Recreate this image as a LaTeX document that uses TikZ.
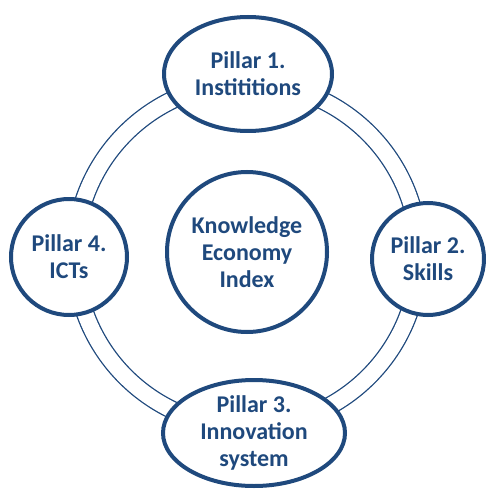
\documentclass[tikz,border=0pt]{standalone}
\usepackage{fontspec}
\setmainfont{Carlito}
\usetikzlibrary{shapes.geometric}
\definecolor{kedark}{RGB}{31,73,125}
\tikzset{
  pillar/.style={draw=kedark,line width=4pt,fill=white,text=kedark,
    align=center,inner sep=0pt,font=\bfseries\fontsize{24}{27}\selectfont},
  round/.style={pillar,circle},
  oval/.style={pillar,ellipse}
}
\begin{document}
\begin{tikzpicture}[x=1pt,y=-1pt]
    \useasboundingbox (0,0) rectangle (485,489);
    % the double ring behind the pillars
    \coordinate (hub) at (247,255);
    \draw[kedark,line width=1.3pt,double=white,double distance=16pt] (hub) circle[radius=172pt];

    \node[round,minimum size=160pt] (kei) at (247,252) {Knowledge\\Economy\\Index};

    \node[oval,minimum width=168pt,minimum height=114pt] (p1) at (248,74) {Pillar 1.\\Instititions};
    \node[round,minimum size=112pt] (p2) at (428,259) {Pillar 2.\\Skills};
    \node[oval,minimum width=182pt,minimum height=106pt] (p3) at (254,433) {Pillar 3.\\Innovation\\system};
    \node[round,minimum size=116pt] (p4) at (69,257) {Pillar 4.\\ICTs};
\end{tikzpicture}
\end{document}
